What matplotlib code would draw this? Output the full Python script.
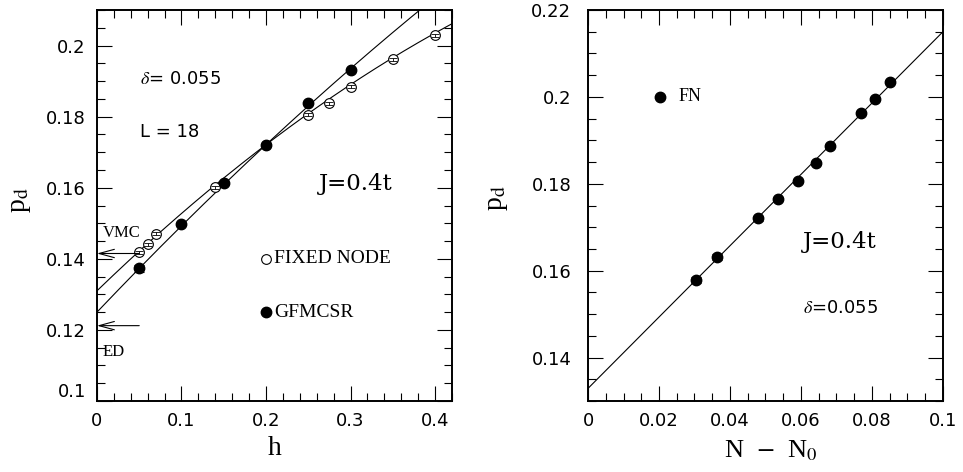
import numpy as np
import matplotlib.pyplot as plt
from matplotlib.ticker import MultipleLocator, FuncFormatter

plt.rcParams['font.family'] = ['Liberation Serif', 'DejaVu Serif']
plt.rcParams['mathtext.fontset'] = 'stix'

SANS = ['DejaVu Sans']

# left panel: p_d versus h at delta = 0.055, L = 18
h_fn = [0.05, 0.06, 0.07, 0.14, 0.2, 0.25, 0.275, 0.3, 0.35, 0.4]
p_fn = [0.1418, 0.1441, 0.1471, 0.1601, 0.1721, 0.1805, 0.1837, 0.1884, 0.1961, 0.2029]
err_fn = [0.0004] * len(h_fn)

h_sr = [0.05, 0.1, 0.15, 0.2, 0.25, 0.3]
p_sr = [0.1373, 0.1497, 0.1612, 0.1721, 0.1837, 0.1931]
err_sr = [0.0009, 0.0003, 0.0003, 0.0003, 0.0003, 0.0003]

# quadratic fits (constant, linear, quadratic)
fit_fn = [0.131, 0.2297, -0.121]
fit_sr = [0.125, 0.2498, -0.0714]

p_vmc = 0.1415
p_ed = 0.1212

# right panel: p_d versus N - N0
dn = [0.0304, 0.0362, 0.0478, 0.0536, 0.0592, 0.0641, 0.0681, 0.0768, 0.0808, 0.0851]
p_dn = [0.1579, 0.1632, 0.1721, 0.1765, 0.1806, 0.1848, 0.1887, 0.1964, 0.1995, 0.2035]
err_dn = [0.0007, 0.0007, 0.0006, 0.0004, 0.0004, 0.0004, 0.0004, 0.0004, 0.0004, 0.0004]
fit_dn = [0.1329, 0.821]


def style_axes(ax, ypad):
    for s in ax.spines.values():
        s.set_linewidth(1.4)
    ax.tick_params(which='both', direction='in', top=True, right=True, width=0.8,
                   labelsize=13, pad=8)
    ax.tick_params(axis='y', pad=ypad)
    ax.tick_params(which='major', length=11)
    ax.tick_params(which='minor', length=5.5)
    fmt = FuncFormatter(lambda v, _: '%g' % round(v, 4))
    ax.xaxis.set_major_formatter(fmt)
    ax.yaxis.set_major_formatter(fmt)
    for lab in ax.get_xticklabels() + ax.get_yticklabels():
        lab.set_family(SANS)


fig = plt.figure(figsize=(9.63, 4.72), dpi=100)
ax1 = fig.add_axes([0.1007, 0.1504, 0.3686, 0.8284])
ax2 = fig.add_axes([0.6106, 0.1504, 0.3686, 0.8284])

# ---- left
hh = np.linspace(0, 0.42, 200)
ax1.plot(hh, np.polyval(fit_fn[::-1], hh), color='black', lw=0.8)
ax1.plot(hh, np.polyval(fit_sr[::-1], hh), color='black', lw=0.8)
ax1.plot(h_fn, p_fn, 'o', mfc='white', mec='black', ms=7, mew=0.8, zorder=3)
ax1.errorbar(h_fn, p_fn, yerr=err_fn, fmt='none', ecolor='black',
             elinewidth=0.6, capsize=3, capthick=0.6, zorder=3.5)
ax1.errorbar(h_sr, p_sr, yerr=err_sr, fmt='o', mfc='black', mec='black', ecolor='black',
             ms=7.5, elinewidth=0.8, capsize=3.5, capthick=0.8, zorder=4)

for p in (p_vmc, p_ed):
    ax1.annotate('', xy=(0, p), xytext=(0.05, p),
                 arrowprops=dict(arrowstyle='->,head_length=1.1,head_width=0.3', lw=0.8,
                                 color='black', shrinkA=0, shrinkB=0))
ax1.text(0.007, 0.1474, 'VMC', fontsize=12, va='center')
ax1.text(0.007, 0.1138, 'ED', fontsize=12, va='center')

ax1.plot([0.2], [0.14], 'o', mfc='white', mec='black', ms=7, mew=0.8)
ax1.text(0.2095, 0.14, 'FIXED NODE', fontsize=14, va='center')
ax1.plot([0.2], [0.125], 'o', color='black', ms=7.5)
ax1.text(0.2095, 0.125, 'GFMCSR', fontsize=14, va='center')

ax1.text(0.051, 0.1906, r'$\delta$= 0.055', fontsize=13, va='center', family=SANS)
ax1.text(0.051, 0.1758, 'L = 18', fontsize=13, va='center', family=SANS)
ax1.text(0.262, 0.161, 'J=0.4t', fontsize=16.5, va='center', family=['DejaVu Serif'])

ax1.set_xlim(0, 0.42)
ax1.set_ylim(0.1, 0.21)
ax1.xaxis.set_major_locator(MultipleLocator(0.1))
ax1.xaxis.set_minor_locator(MultipleLocator(0.02))
ax1.set_yticks([0.1, 0.12, 0.14, 0.16, 0.18, 0.2])
ax1.yaxis.set_minor_locator(MultipleLocator(0.005))
style_axes(ax1, 8)
# lowest y label sits a little above its tick
ax1.yaxis.get_major_ticks()[0].label1.set_va('bottom')
ax1.set_xlabel('h', fontsize=20)
ax1.set_ylabel(r'p$_{\rm d}$', fontsize=20)
ax1.xaxis.set_label_coords(0.5, -0.09)
ax1.yaxis.set_label_coords(-0.18, 0.514)

# ---- right
xx = np.linspace(0, 0.1, 100)
ax2.plot(xx, np.polyval(fit_dn[::-1], xx), color='black', lw=0.8)
ax2.errorbar(dn, p_dn, yerr=err_dn, fmt='o', color='black', ms=7.5,
             elinewidth=0.8, capsize=3.5, capthick=0.8, zorder=3)
ax2.plot([0.0203], [0.2], 'o', color='black', ms=7.5)
ax2.text(0.0255, 0.2, 'FN', fontsize=13, va='center')
ax2.text(0.0605, 0.1666, 'J=0.4t', fontsize=16.5, va='center', family=['DejaVu Serif'])
ax2.text(0.0605, 0.1514, r'$\delta$=0.055', fontsize=13, va='center', family=SANS)

ax2.set_xlim(0, 0.1)
ax2.set_ylim(0.13, 0.22)
ax2.xaxis.set_major_locator(MultipleLocator(0.02))
ax2.xaxis.set_minor_locator(MultipleLocator(0.005))
ax2.set_yticks([0.14, 0.16, 0.18, 0.2, 0.22])
ax2.yaxis.set_minor_locator(MultipleLocator(0.005))
style_axes(ax2, 12)
ax2.set_xlabel(r'N  $-$  N$_{\rm 0}$', fontsize=19)
ax2.set_ylabel(r'p$_{\rm d}$', fontsize=20)
ax2.xaxis.set_label_coords(0.515, -0.095)
ax2.yaxis.set_label_coords(-0.22, 0.52)

fig.savefig('out.png', dpi=100)
